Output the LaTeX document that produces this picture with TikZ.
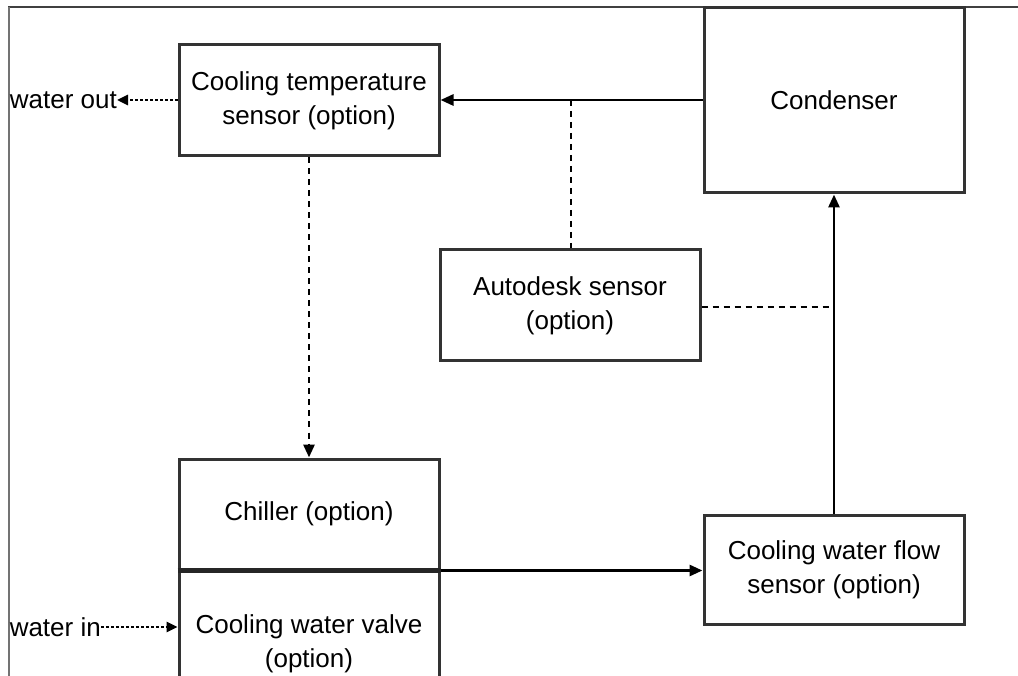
\documentclass[tikz,border=0pt]{standalone}
\usepackage{fontspec}
\setmainfont{Liberation Sans}
\usetikzlibrary{arrows.meta}
\begin{document}
\begin{tikzpicture}[x=1pt,y=-1pt,
  box/.style={draw=black!80,line width=3pt,minimum width=260pt,inner sep=0pt,align=center,font=\fontsize{26}{34}\selectfont},
  lbl/.style={inner sep=0pt,font=\fontsize{26}{34}\selectfont},
  flow/.style={line width=2.8pt,-{Triangle[length=13pt,width=11pt]}},
  sig/.style={line width=2.8pt,dash pattern=on 6pt off 5pt},
  sigarr/.style={sig,-{Triangle[length=13pt,width=11pt]}},
  wat/.style={line width=2.6pt,dash pattern=on 2.5pt off 2.5pt,-{Triangle[length=11pt,width=10pt]}}]
\useasboundingbox (0,0) rectangle (1018,676);
\begin{scope}
\clip (0,0) rectangle (1018,676);
\draw[black!75,line width=1.5pt] (8,7) -- (1018,7);
\draw[black!55,line width=1.5pt] (9,7) -- (9,680);
\node[box,minimum height=111pt] (temp) at (309,100.5) {Cooling temperature\\sensor (option)};
\node[box,minimum height=185pt] (cond) at (834,100.5) {Condenser};
\node[box,minimum height=111pt] (auto) at (570,305.5) {Autodesk sensor\\(option)};
\node[box,minimum height=110pt] (chill) at (309,514) {Chiller (option)};
\node[box,minimum height=150pt] (valve) at (309,644) {Cooling water valve\\(option)};
\draw[black!85,line width=5pt] (chill.south west) -- (chill.south east);
\node[box,minimum height=109pt] (flowsen) at (834,569.5) {Cooling water flow\\sensor (option)};
\node[lbl,anchor=east] (wout) at (117,100) {water out};
\node[lbl,anchor=east] (win) at (101,627) {water in};
\coordinate (j1) at (571,100);
\coordinate (j2) at (834,307);
\draw[flow] (cond.west |- 0,100) -- (temp.east |- 0,100);
\draw[sig] (j1) -- (auto.north -| j1);
\draw[sigarr] (temp.south) -- (chill.north);
\draw[flow] (flowsen.north) -- (cond.south);
\draw[sig] (auto.east |- j2) -- (j2);
\draw[flow] (chill.south east) -- (flowsen.west |- chill.south east);
\draw[wat] (temp.west |- wout.east) -- (wout.east);
\draw[wat] (win.east) -- (valve.west |- win.east);
\end{scope}
\end{tikzpicture}
\end{document}
